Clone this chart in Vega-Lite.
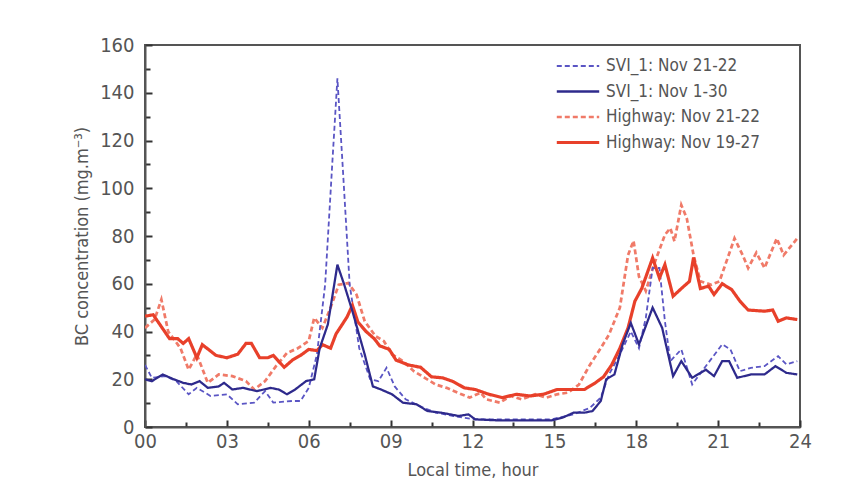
{
  "$schema": "https://vega.github.io/schema/vega-lite/v6.json",
  "autosize": {"type": "none"},
  "width": 655,
  "height": 382,
  "padding": {"left": 145, "top": 45, "right": 65, "bottom": 68},
  "background": "white",
  "config": {
    "font": "DejaVu Sans Condensed",
    "view": {"stroke": "#555555", "strokeWidth": 2},
    "axis": {
      "domainColor": "#555555", "domainWidth": 2, "tickColor": "#333333", "tickWidth": 2,
      "labelColor": "#555555", "titleColor": "#555555", "labelFont": "DejaVu Sans Condensed",
      "titleFont": "DejaVu Sans Condensed", "titleFontWeight": "normal", "grid": false
    }
  },
  "data": {"values": [
    {"s":"Highway: Nov 21-22","h":0,"v":41.5},{"s":"Highway: Nov 21-22","h":0.35,"v":45},{"s":"Highway: Nov 21-22","h":0.6,"v":53.4},{"s":"Highway: Nov 21-22","h":0.85,"v":40},{"s":"Highway: Nov 21-22","h":1.3,"v":33},{"s":"Highway: Nov 21-22","h":1.6,"v":24},{"s":"Highway: Nov 21-22","h":1.9,"v":30.4},{"s":"Highway: Nov 21-22","h":2.3,"v":18.5},{"s":"Highway: Nov 21-22","h":2.7,"v":22},{"s":"Highway: Nov 21-22","h":3.2,"v":21.3},{"s":"Highway: Nov 21-22","h":3.7,"v":19.2},{"s":"Highway: Nov 21-22","h":4.0,"v":15.7},{"s":"Highway: Nov 21-22","h":4.4,"v":19.2},{"s":"Highway: Nov 21-22","h":4.8,"v":25.5},{"s":"Highway: Nov 21-22","h":5.2,"v":31},{"s":"Highway: Nov 21-22","h":5.6,"v":33},{"s":"Highway: Nov 21-22","h":6.0,"v":36},{"s":"Highway: Nov 21-22","h":6.2,"v":45.7},{"s":"Highway: Nov 21-22","h":6.5,"v":41.5},{"s":"Highway: Nov 21-22","h":6.8,"v":50},{"s":"Highway: Nov 21-22","h":7.1,"v":59.6},{"s":"Highway: Nov 21-22","h":7.45,"v":60.3},{"s":"Highway: Nov 21-22","h":7.75,"v":55.5},{"s":"Highway: Nov 21-22","h":8.05,"v":44.3},{"s":"Highway: Nov 21-22","h":8.45,"v":38},{"s":"Highway: Nov 21-22","h":8.75,"v":36},{"s":"Highway: Nov 21-22","h":9.05,"v":30.4},{"s":"Highway: Nov 21-22","h":9.45,"v":27.6},{"s":"Highway: Nov 21-22","h":9.85,"v":23.4},{"s":"Highway: Nov 21-22","h":10.25,"v":20.6},{"s":"Highway: Nov 21-22","h":10.65,"v":17.8},{"s":"Highway: Nov 21-22","h":11.05,"v":16.4},{"s":"Highway: Nov 21-22","h":11.45,"v":14.4},{"s":"Highway: Nov 21-22","h":11.9,"v":12.3},{"s":"Highway: Nov 21-22","h":12.3,"v":14.4},{"s":"Highway: Nov 21-22","h":12.5,"v":11.6},{"s":"Highway: Nov 21-22","h":13.0,"v":10.2},{"s":"Highway: Nov 21-22","h":13.4,"v":13},{"s":"Highway: Nov 21-22","h":13.8,"v":11.6},{"s":"Highway: Nov 21-22","h":14.3,"v":13.7},{"s":"Highway: Nov 21-22","h":14.7,"v":12.3},{"s":"Highway: Nov 21-22","h":15.1,"v":13.7},{"s":"Highway: Nov 21-22","h":15.5,"v":14.4},{"s":"Highway: Nov 21-22","h":15.9,"v":17.8},{"s":"Highway: Nov 21-22","h":16.3,"v":26},{"s":"Highway: Nov 21-22","h":16.7,"v":33},{"s":"Highway: Nov 21-22","h":17.0,"v":38.7},{"s":"Highway: Nov 21-22","h":17.4,"v":50},{"s":"Highway: Nov 21-22","h":17.7,"v":72},{"s":"Highway: Nov 21-22","h":17.9,"v":78},{"s":"Highway: Nov 21-22","h":18.1,"v":63},{"s":"Highway: Nov 21-22","h":18.35,"v":57},{"s":"Highway: Nov 21-22","h":18.65,"v":68},{"s":"Highway: Nov 21-22","h":19.05,"v":80.5},{"s":"Highway: Nov 21-22","h":19.25,"v":83.3},{"s":"Highway: Nov 21-22","h":19.4,"v":77.8},{"s":"Highway: Nov 21-22","h":19.65,"v":93},{"s":"Highway: Nov 21-22","h":19.85,"v":87.5},{"s":"Highway: Nov 21-22","h":20.1,"v":72},{"s":"Highway: Nov 21-22","h":20.35,"v":61},{"s":"Highway: Nov 21-22","h":20.75,"v":59.6},{"s":"Highway: Nov 21-22","h":21.05,"v":61},{"s":"Highway: Nov 21-22","h":21.6,"v":79},{"s":"Highway: Nov 21-22","h":21.9,"v":72},{"s":"Highway: Nov 21-22","h":22.1,"v":66.6},{"s":"Highway: Nov 21-22","h":22.4,"v":73},{"s":"Highway: Nov 21-22","h":22.7,"v":66.6},{"s":"Highway: Nov 21-22","h":23.15,"v":79},{"s":"Highway: Nov 21-22","h":23.4,"v":72},{"s":"Highway: Nov 21-22","h":23.9,"v":79},
    {"s":"SVI_1: Nov 21-22","h":0,"v":26},{"s":"SVI_1: Nov 21-22","h":0.25,"v":20.6},{"s":"SVI_1: Nov 21-22","h":0.75,"v":21.3},{"s":"SVI_1: Nov 21-22","h":1.15,"v":19.2},{"s":"SVI_1: Nov 21-22","h":1.6,"v":13.7},{"s":"SVI_1: Nov 21-22","h":1.9,"v":16.4},{"s":"SVI_1: Nov 21-22","h":2.4,"v":13},{"s":"SVI_1: Nov 21-22","h":3.0,"v":13.7},{"s":"SVI_1: Nov 21-22","h":3.4,"v":9.5},{"s":"SVI_1: Nov 21-22","h":4.0,"v":10.2},{"s":"SVI_1: Nov 21-22","h":4.4,"v":15},{"s":"SVI_1: Nov 21-22","h":4.7,"v":10.2},{"s":"SVI_1: Nov 21-22","h":5.4,"v":10.9},{"s":"SVI_1: Nov 21-22","h":5.7,"v":10.9},{"s":"SVI_1: Nov 21-22","h":6.0,"v":16.4},{"s":"SVI_1: Nov 21-22","h":6.3,"v":30.4},{"s":"SVI_1: Nov 21-22","h":6.6,"v":59.6},{"s":"SVI_1: Nov 21-22","h":6.85,"v":108},{"s":"SVI_1: Nov 21-22","h":7.05,"v":146},{"s":"SVI_1: Nov 21-22","h":7.25,"v":108},{"s":"SVI_1: Nov 21-22","h":7.5,"v":59.6},{"s":"SVI_1: Nov 21-22","h":7.85,"v":33},{"s":"SVI_1: Nov 21-22","h":8.25,"v":20},{"s":"SVI_1: Nov 21-22","h":8.55,"v":19.2},{"s":"SVI_1: Nov 21-22","h":8.85,"v":24.8},{"s":"SVI_1: Nov 21-22","h":9.15,"v":17},{"s":"SVI_1: Nov 21-22","h":9.55,"v":11.6},{"s":"SVI_1: Nov 21-22","h":10.05,"v":8.8},{"s":"SVI_1: Nov 21-22","h":10.65,"v":6},{"s":"SVI_1: Nov 21-22","h":11.3,"v":4.6},{"s":"SVI_1: Nov 21-22","h":12.1,"v":3.2},{"s":"SVI_1: Nov 21-22","h":14.9,"v":3.2},{"s":"SVI_1: Nov 21-22","h":15.7,"v":5.3},{"s":"SVI_1: Nov 21-22","h":16.3,"v":8},{"s":"SVI_1: Nov 21-22","h":16.7,"v":12.3},{"s":"SVI_1: Nov 21-22","h":17.0,"v":22},{"s":"SVI_1: Nov 21-22","h":17.4,"v":30.4},{"s":"SVI_1: Nov 21-22","h":17.8,"v":40},{"s":"SVI_1: Nov 21-22","h":18.1,"v":33},{"s":"SVI_1: Nov 21-22","h":18.35,"v":45.7},{"s":"SVI_1: Nov 21-22","h":18.6,"v":66.6},{"s":"SVI_1: Nov 21-22","h":18.85,"v":66.6},{"s":"SVI_1: Nov 21-22","h":19.05,"v":44.3},{"s":"SVI_1: Nov 21-22","h":19.25,"v":27.6},{"s":"SVI_1: Nov 21-22","h":19.65,"v":32.5},{"s":"SVI_1: Nov 21-22","h":20.05,"v":17.8},{"s":"SVI_1: Nov 21-22","h":20.45,"v":24},{"s":"SVI_1: Nov 21-22","h":21.15,"v":34.6},{"s":"SVI_1: Nov 21-22","h":21.45,"v":32.5},{"s":"SVI_1: Nov 21-22","h":21.8,"v":23.4},{"s":"SVI_1: Nov 21-22","h":22.2,"v":24.8},{"s":"SVI_1: Nov 21-22","h":22.7,"v":25.5},{"s":"SVI_1: Nov 21-22","h":23.2,"v":29.7},{"s":"SVI_1: Nov 21-22","h":23.5,"v":26.2},{"s":"SVI_1: Nov 21-22","h":23.9,"v":27.6},
    {"s":"Highway: Nov 19-27","h":0,"v":46.4},{"s":"Highway: Nov 19-27","h":0.3,"v":47},{"s":"Highway: Nov 19-27","h":0.9,"v":37},{"s":"Highway: Nov 19-27","h":1.2,"v":37},{"s":"Highway: Nov 19-27","h":1.4,"v":35},{"s":"Highway: Nov 19-27","h":1.6,"v":37},{"s":"Highway: Nov 19-27","h":1.9,"v":29},{"s":"Highway: Nov 19-27","h":2.1,"v":34.5},{"s":"Highway: Nov 19-27","h":2.6,"v":30},{"s":"Highway: Nov 19-27","h":3.0,"v":29},{"s":"Highway: Nov 19-27","h":3.4,"v":30.5},{"s":"Highway: Nov 19-27","h":3.7,"v":35},{"s":"Highway: Nov 19-27","h":3.9,"v":35},{"s":"Highway: Nov 19-27","h":4.2,"v":29},{"s":"Highway: Nov 19-27","h":4.5,"v":29},{"s":"Highway: Nov 19-27","h":4.7,"v":30},{"s":"Highway: Nov 19-27","h":5.1,"v":25},{"s":"Highway: Nov 19-27","h":5.4,"v":28},{"s":"Highway: Nov 19-27","h":5.7,"v":30},{"s":"Highway: Nov 19-27","h":6.0,"v":32.5},{"s":"Highway: Nov 19-27","h":6.3,"v":32},{"s":"Highway: Nov 19-27","h":6.5,"v":34.5},{"s":"Highway: Nov 19-27","h":6.8,"v":33},{"s":"Highway: Nov 19-27","h":7.0,"v":39},{"s":"Highway: Nov 19-27","h":7.4,"v":46},{"s":"Highway: Nov 19-27","h":7.6,"v":51},{"s":"Highway: Nov 19-27","h":7.8,"v":44},{"s":"Highway: Nov 19-27","h":8.1,"v":40},{"s":"Highway: Nov 19-27","h":8.4,"v":37},{"s":"Highway: Nov 19-27","h":8.6,"v":34},{"s":"Highway: Nov 19-27","h":8.95,"v":32.5},{"s":"Highway: Nov 19-27","h":9.2,"v":28},{"s":"Highway: Nov 19-27","h":9.65,"v":26},{"s":"Highway: Nov 19-27","h":10.1,"v":25},{"s":"Highway: Nov 19-27","h":10.5,"v":21},{"s":"Highway: Nov 19-27","h":10.9,"v":20.6},{"s":"Highway: Nov 19-27","h":11.3,"v":19},{"s":"Highway: Nov 19-27","h":11.7,"v":16.4},{"s":"Highway: Nov 19-27","h":12.1,"v":15.7},{"s":"Highway: Nov 19-27","h":12.6,"v":13.7},{"s":"Highway: Nov 19-27","h":13.1,"v":12.3},{"s":"Highway: Nov 19-27","h":13.6,"v":13.7},{"s":"Highway: Nov 19-27","h":14.1,"v":13},{"s":"Highway: Nov 19-27","h":14.6,"v":13.7},{"s":"Highway: Nov 19-27","h":15.1,"v":15.7},{"s":"Highway: Nov 19-27","h":15.6,"v":15.7},{"s":"Highway: Nov 19-27","h":16.1,"v":15.7},{"s":"Highway: Nov 19-27","h":16.5,"v":18.5},{"s":"Highway: Nov 19-27","h":16.8,"v":21},{"s":"Highway: Nov 19-27","h":17.1,"v":26},{"s":"Highway: Nov 19-27","h":17.4,"v":33},{"s":"Highway: Nov 19-27","h":17.7,"v":41.5},{"s":"Highway: Nov 19-27","h":17.95,"v":52.7},{"s":"Highway: Nov 19-27","h":18.2,"v":58},{"s":"Highway: Nov 19-27","h":18.6,"v":70.8},{"s":"Highway: Nov 19-27","h":18.85,"v":62.4},{"s":"Highway: Nov 19-27","h":19.05,"v":68},{"s":"Highway: Nov 19-27","h":19.35,"v":54.8},{"s":"Highway: Nov 19-27","h":19.75,"v":59},{"s":"Highway: Nov 19-27","h":19.95,"v":61},{"s":"Highway: Nov 19-27","h":20.1,"v":71},{"s":"Highway: Nov 19-27","h":20.35,"v":58},{"s":"Highway: Nov 19-27","h":20.65,"v":59},{"s":"Highway: Nov 19-27","h":20.85,"v":55.5},{"s":"Highway: Nov 19-27","h":21.15,"v":60},{"s":"Highway: Nov 19-27","h":21.5,"v":57.5},{"s":"Highway: Nov 19-27","h":21.8,"v":52.7},{"s":"Highway: Nov 19-27","h":22.1,"v":49},{"s":"Highway: Nov 19-27","h":22.7,"v":48.5},{"s":"Highway: Nov 19-27","h":23.0,"v":49},{"s":"Highway: Nov 19-27","h":23.2,"v":44.3},{"s":"Highway: Nov 19-27","h":23.5,"v":45.7},{"s":"Highway: Nov 19-27","h":23.9,"v":45},
    {"s":"SVI_1: Nov 1-30","h":0,"v":20},{"s":"SVI_1: Nov 1-30","h":0.25,"v":19.2},{"s":"SVI_1: Nov 1-30","h":0.65,"v":22},{"s":"SVI_1: Nov 1-30","h":1.05,"v":20},{"s":"SVI_1: Nov 1-30","h":1.4,"v":18.5},{"s":"SVI_1: Nov 1-30","h":1.7,"v":17.8},{"s":"SVI_1: Nov 1-30","h":2.0,"v":19.2},{"s":"SVI_1: Nov 1-30","h":2.3,"v":16.4},{"s":"SVI_1: Nov 1-30","h":2.7,"v":17},{"s":"SVI_1: Nov 1-30","h":2.9,"v":18.5},{"s":"SVI_1: Nov 1-30","h":3.2,"v":15.7},{"s":"SVI_1: Nov 1-30","h":3.6,"v":16.4},{"s":"SVI_1: Nov 1-30","h":4.1,"v":15},{"s":"SVI_1: Nov 1-30","h":4.6,"v":16.4},{"s":"SVI_1: Nov 1-30","h":4.9,"v":15.7},{"s":"SVI_1: Nov 1-30","h":5.2,"v":13.7},{"s":"SVI_1: Nov 1-30","h":5.5,"v":15.7},{"s":"SVI_1: Nov 1-30","h":5.9,"v":19.2},{"s":"SVI_1: Nov 1-30","h":6.2,"v":20},{"s":"SVI_1: Nov 1-30","h":6.4,"v":33},{"s":"SVI_1: Nov 1-30","h":6.7,"v":43},{"s":"SVI_1: Nov 1-30","h":7.05,"v":68},{"s":"SVI_1: Nov 1-30","h":7.3,"v":59.6},{"s":"SVI_1: Nov 1-30","h":7.6,"v":48.5},{"s":"SVI_1: Nov 1-30","h":8.05,"v":30.4},{"s":"SVI_1: Nov 1-30","h":8.35,"v":17},{"s":"SVI_1: Nov 1-30","h":8.65,"v":15.7},{"s":"SVI_1: Nov 1-30","h":9.05,"v":13.7},{"s":"SVI_1: Nov 1-30","h":9.45,"v":10.2},{"s":"SVI_1: Nov 1-30","h":9.95,"v":9.5},{"s":"SVI_1: Nov 1-30","h":10.35,"v":6.7},{"s":"SVI_1: Nov 1-30","h":10.85,"v":6},{"s":"SVI_1: Nov 1-30","h":11.5,"v":4.6},{"s":"SVI_1: Nov 1-30","h":11.85,"v":5.3},{"s":"SVI_1: Nov 1-30","h":12.1,"v":3.2},{"s":"SVI_1: Nov 1-30","h":12.9,"v":2.8},{"s":"SVI_1: Nov 1-30","h":13.9,"v":2.8},{"s":"SVI_1: Nov 1-30","h":14.9,"v":2.8},{"s":"SVI_1: Nov 1-30","h":15.3,"v":3.9},{"s":"SVI_1: Nov 1-30","h":15.7,"v":6},{"s":"SVI_1: Nov 1-30","h":16.1,"v":6},{"s":"SVI_1: Nov 1-30","h":16.4,"v":6.7},{"s":"SVI_1: Nov 1-30","h":16.7,"v":10.9},{"s":"SVI_1: Nov 1-30","h":16.9,"v":20},{"s":"SVI_1: Nov 1-30","h":17.2,"v":22},{"s":"SVI_1: Nov 1-30","h":17.5,"v":34.6},{"s":"SVI_1: Nov 1-30","h":17.8,"v":43.6},{"s":"SVI_1: Nov 1-30","h":18.1,"v":34.6},{"s":"SVI_1: Nov 1-30","h":18.6,"v":50},{"s":"SVI_1: Nov 1-30","h":18.95,"v":41.5},{"s":"SVI_1: Nov 1-30","h":19.35,"v":21.3},{"s":"SVI_1: Nov 1-30","h":19.65,"v":27.6},{"s":"SVI_1: Nov 1-30","h":20.05,"v":20.6},{"s":"SVI_1: Nov 1-30","h":20.55,"v":24},{"s":"SVI_1: Nov 1-30","h":20.85,"v":21.3},{"s":"SVI_1: Nov 1-30","h":21.15,"v":27.6},{"s":"SVI_1: Nov 1-30","h":21.4,"v":27.6},{"s":"SVI_1: Nov 1-30","h":21.7,"v":20.6},{"s":"SVI_1: Nov 1-30","h":22.2,"v":22},{"s":"SVI_1: Nov 1-30","h":22.7,"v":22},{"s":"SVI_1: Nov 1-30","h":23.1,"v":25.5},{"s":"SVI_1: Nov 1-30","h":23.5,"v":22.7},{"s":"SVI_1: Nov 1-30","h":23.9,"v":22}
  ]},
  "mark": {"type": "line", "clip": true},
  "encoding": {
    "x": {
      "field": "h", "type": "quantitative",
      "scale": {"domain": [0, 24], "nice": false, "zero": false},
      "axis": {
        "title": "Local time, hour", "titleFontSize": 18, "titlePadding": 8,
        "values": [0,1.5,3,4.5,6,7.5,9,10.5,12,13.5,15,16.5,18,19.5,21,22.5,24],
        "labelExpr": "datum.value % 3 === 0 ? (datum.value < 10 ? '0' + datum.value : '' + datum.value) : ''",
        "labelFontSize": 20, "labelPadding": 11,
        "tickSize": {"condition": {"test": "datum.value % 3 === 0", "value": -7}, "value": -5},
        "labelFlush": false, "labelOverlap": false
      }
    },
    "y": {
      "field": "v", "type": "quantitative",
      "scale": {"domain": [0, 160], "nice": false},
      "axis": {
        "title": "BC concentration (mg.m⁻³)", "titleFontSize": 18, "titlePadding": 8,
        "values": [0,10,20,30,40,50,60,70,80,90,100,110,120,130,140,150,160],
        "labelExpr": "datum.value % 20 === 0 ? '' + datum.value : ''",
        "labelFontSize": 20, "labelPadding": 18,
        "tickSize": {"condition": {"test": "datum.value % 20 === 0", "value": -7}, "value": -5},
        "labelFlush": false, "labelOverlap": false
      }
    },
    "color": {
      "field": "s", "type": "nominal",
      "scale": {
        "domain": ["SVI_1: Nov 21-22", "SVI_1: Nov 1-30", "Highway: Nov 21-22", "Highway: Nov 19-27"],
        "range": ["#5a55c4", "#2e2a8c", "#f07a68", "#e8402a"]
      },
      "legend": {
        "title": null, "orient": "none", "legendX": 410, "legendY": 9,
        "labelFontSize": 17, "labelColor": "#555555", "labelFont": "DejaVu Sans Condensed",
        "symbolType": "stroke", "symbolSize": 1800, "rowPadding": 1.5, "clipHeight": 24, "labelOffset": 5
      }
    },
    "strokeDash": {
      "field": "s", "type": "nominal",
      "scale": {
        "domain": ["SVI_1: Nov 21-22", "SVI_1: Nov 1-30", "Highway: Nov 21-22", "Highway: Nov 19-27"],
        "range": [[5, 3], [1, 0], [5, 3], [1, 0]]
      },
      "legend": null
    },
    "strokeWidth": {
      "field": "s", "type": "nominal",
      "scale": {
        "domain": ["SVI_1: Nov 21-22", "SVI_1: Nov 1-30", "Highway: Nov 21-22", "Highway: Nov 19-27"],
        "range": [1.8, 3.2, 1.6, 2.6]
      },
      "legend": null
    }
  }
}
